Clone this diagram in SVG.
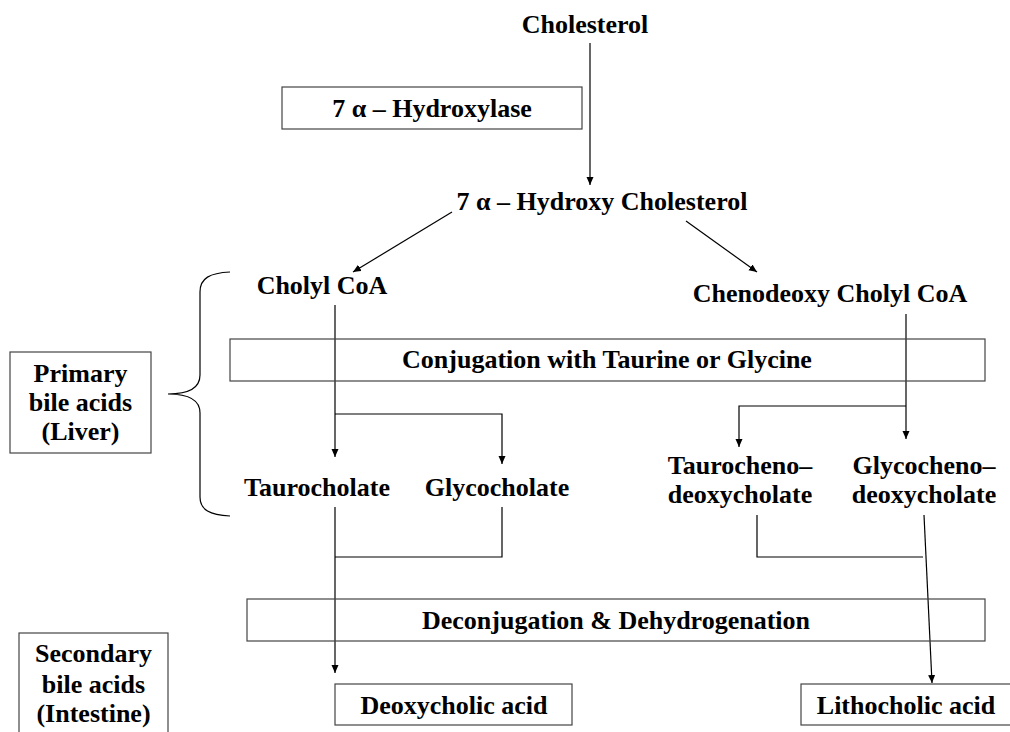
<svg xmlns="http://www.w3.org/2000/svg" width="1010" height="732" viewBox="0 0 1010 732">
<style>
text{font-family:"Liberation Serif","Times New Roman",serif;font-weight:bold;font-size:26px;fill:#000;text-anchor:middle}
.box{fill:none;stroke:#444;stroke-width:1.2}
.ln{fill:none;stroke:#000;stroke-width:1.2}
</style>
<defs>
<marker id="ah" markerUnits="userSpaceOnUse" markerWidth="9" markerHeight="8" refX="8" refY="3.5" orient="auto">
<path d="M0,0 L8,3.5 L0,7 z" fill="#000"/>
</marker>
</defs>
<rect width="1010" height="732" fill="#fff"/>
<g id="connectors">
<line class="ln" x1="590" y1="43" x2="590" y2="185" marker-end="url(#ah)"/>
<line class="ln" x1="452" y1="212" x2="353" y2="272" marker-end="url(#ah)"/>
<line class="ln" x1="686" y1="221" x2="757" y2="272" marker-end="url(#ah)"/>
<line class="ln" x1="335" y1="305" x2="335" y2="457" marker-end="url(#ah)"/>
<polyline class="ln" points="335,414 502,414 502,464" marker-end="url(#ah)"/>
<line class="ln" x1="906" y1="314" x2="906" y2="439" marker-end="url(#ah)"/>
<polyline class="ln" points="906,406 739,406 739,447" marker-end="url(#ah)"/>
<line class="ln" x1="335" y1="507" x2="335" y2="673" marker-end="url(#ah)"/>
<polyline class="ln" points="502,507 502,557 335,557"/>
<polyline class="ln" points="757,515 757,557 923,557"/>
<line class="ln" x1="924" y1="515" x2="932" y2="683" marker-end="url(#ah)"/>
</g>
<g id="cholesterol"><text x="585" y="33">Cholesterol</text></g>
<g id="hydroxylase"><rect class="box" x="282" y="87" width="300" height="42"/><text x="432" y="117">7 α – Hydroxylase</text></g>
<g id="hydroxy-cholesterol"><text x="602" y="210">7 α – Hydroxy Cholesterol</text></g>
<g id="cholyl-coa"><text x="322" y="294">Cholyl CoA</text></g>
<g id="chenodeoxy-cholyl-coa"><text x="830" y="302">Chenodeoxy Cholyl CoA</text></g>
<g id="brace"><path class="ln" d="M230,272 C210,273 200,278 200,292 L200,375 C200,388 188,394 168,394 C188,394 200,400 200,413 L200,497 C200,510 210,515 230,516"/></g>
<g id="primary"><rect class="box" x="10" y="112" width="141" height="101" transform="translate(0,240)"/><text x="80.5" y="382">Primary</text><text x="80.5" y="411">bile acids</text><text x="80.5" y="440">(Liver)</text></g>
<g id="conjugation"><rect class="box" x="230" y="339" width="755" height="42"/><text x="607" y="368">Conjugation with Taurine or Glycine</text></g>
<g id="taurocholate"><text x="317" y="496">Taurocholate</text></g>
<g id="glycocholate"><text x="497" y="496">Glycocholate</text></g>
<g id="taurochenodeoxycholate"><text x="740" y="474">Taurocheno–</text><text x="740" y="503">deoxycholate</text></g>
<g id="glycochenodeoxycholate"><text x="924" y="474">Glycocheno–</text><text x="924" y="503">deoxycholate</text></g>
<g id="deconjugation"><rect class="box" x="247" y="599" width="738" height="42"/><text x="616" y="629">Deconjugation &amp; Dehydrogenation</text></g>
<g id="secondary"><rect class="box" x="19" y="633" width="149" height="110"/><text x="93.5" y="662">Secondary</text><text x="93.5" y="693">bile acids</text><text x="93.5" y="722">(Intestine)</text></g>
<g id="deoxycholic"><rect class="box" x="335" y="684" width="237" height="41"/><text x="454" y="714">Deoxycholic acid</text></g>
<g id="lithocholic"><rect class="box" x="801" y="684" width="215" height="41"/><text x="906" y="714">Lithocholic acid</text></g>
</svg>
